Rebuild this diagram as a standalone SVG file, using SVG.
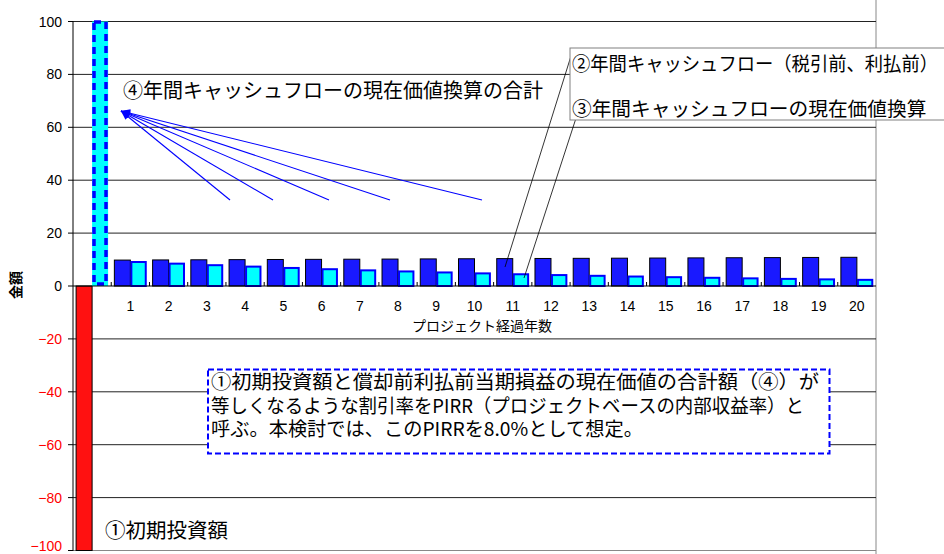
<svg xmlns="http://www.w3.org/2000/svg" width="944" height="554" viewBox="0 0 944 554">
<defs>
<style>
.grid{stroke:#222;stroke-width:1;fill:none}
.num{font-family:"Liberation Sans",Arial,sans-serif;font-size:14px;fill:#000}
.neg{fill:#ff0000}
.jp{font-family:"Noto Sans CJK JP","Liberation Sans",sans-serif;fill:#000}
.cf{fill:#1919ff;stroke:#000;stroke-width:1}
.pv{fill:#00ffff;stroke:#0000ff;stroke-width:2}
.tick{stroke:#000;stroke-width:1}
.arr{stroke:#0000ff;stroke-width:1.1;fill:none;marker-end:url(#ah)}
.lead{stroke:#000;stroke-width:0.8;fill:none}
</style>
<marker id="ah" markerUnits="userSpaceOnUse" markerWidth="10" markerHeight="8" refX="9" refY="4" orient="auto">
<path d="M0,0 L9,4 L0,8 z" fill="#0000ff"/>
</marker>
</defs>
<rect width="944" height="554" fill="#fff"/>

<g id="plot-frame">
<line x1="876" y1="0" x2="876" y2="554" stroke="#888" stroke-width="1"/>
<line class="grid" x1="73" y1="21.5" x2="876" y2="21.5" stroke="#888"/>
<line class="grid" x1="73" y1="74.4" x2="876" y2="74.4"/>
<line class="grid" x1="73" y1="127.3" x2="876" y2="127.3"/>
<line class="grid" x1="73" y1="180.2" x2="876" y2="180.2"/>
<line class="grid" x1="73" y1="233.1" x2="876" y2="233.1"/>
<line class="grid" x1="73" y1="338.9" x2="876" y2="338.9"/>
<line class="grid" x1="73" y1="391.8" x2="876" y2="391.8"/>
<line class="grid" x1="73" y1="444.7" x2="876" y2="444.7"/>
<line class="grid" x1="73" y1="497.6" x2="876" y2="497.6"/>
<line x1="73" y1="550.5" x2="876" y2="550.5" stroke="#888" stroke-width="1"/>
<line x1="73" y1="21" x2="73" y2="551" stroke="#000" stroke-width="1"/>
<g class="tick">
<line x1="68" y1="21.5" x2="73" y2="21.5"/><line x1="68" y1="74.4" x2="73" y2="74.4"/>
<line x1="68" y1="127.3" x2="73" y2="127.3"/><line x1="68" y1="180.2" x2="73" y2="180.2"/>
<line x1="68" y1="233.1" x2="73" y2="233.1"/><line x1="68" y1="286" x2="73" y2="286"/>
<line x1="68" y1="338.9" x2="73" y2="338.9"/><line x1="68" y1="391.8" x2="73" y2="391.8"/>
<line x1="68" y1="444.7" x2="73" y2="444.7"/><line x1="68" y1="497.6" x2="73" y2="497.6"/>
<line x1="68" y1="550.5" x2="73" y2="550.5"/>
</g>
</g>

<g id="y-labels" class="num" text-anchor="end">
<text x="62" y="26.5">100</text>
<text x="62" y="79.4">80</text>
<text x="62" y="132.3">60</text>
<text x="62" y="185.2">40</text>
<text x="62" y="238.1">20</text>
<text x="62" y="291">0</text>
<text class="neg" x="62" y="343.9">−20</text>
<text class="neg" x="62" y="396.8">−40</text>
<text class="neg" x="62" y="449.7">−60</text>
<text class="neg" x="62" y="502.6">−80</text>
<text class="neg" x="62" y="551">−100</text>
</g>
<text id="y-title" class="jp" font-size="14" font-weight="bold" text-anchor="middle" transform="translate(21,285) rotate(-90)">金額</text>

<g id="bars-year0">
<rect x="76.1" y="286" width="16" height="264.5" fill="#ff1111" stroke="#000" stroke-width="1"/>
<rect x="92.1" y="21.5" width="16" height="264.5" fill="#00ffff"/>
<rect x="94" y="22" width="12" height="262" fill="none" stroke="#0000ff" stroke-width="3.5" stroke-dasharray="7 5"/>
</g>

<g id="bars-cashflow">
<rect class="cf" x="114.36" y="260.08" width="16" height="25.92"/>
<rect class="cf" x="152.60" y="259.93" width="16" height="26.07"/>
<rect class="cf" x="190.83" y="259.79" width="16" height="26.21"/>
<rect class="cf" x="229.07" y="259.64" width="16" height="26.36"/>
<rect class="cf" x="267.31" y="259.49" width="16" height="26.51"/>
<rect class="cf" x="305.55" y="259.35" width="16" height="26.65"/>
<rect class="cf" x="343.79" y="259.20" width="16" height="26.80"/>
<rect class="cf" x="382.02" y="259.06" width="16" height="26.94"/>
<rect class="cf" x="420.26" y="258.91" width="16" height="27.09"/>
<rect class="cf" x="458.50" y="258.76" width="16" height="27.24"/>
<rect class="cf" x="496.74" y="258.62" width="16" height="27.38"/>
<rect class="cf" x="534.98" y="258.47" width="16" height="27.53"/>
<rect class="cf" x="573.21" y="258.33" width="16" height="27.67"/>
<rect class="cf" x="611.45" y="258.18" width="16" height="27.82"/>
<rect class="cf" x="649.69" y="258.03" width="16" height="27.97"/>
<rect class="cf" x="687.93" y="257.89" width="16" height="28.11"/>
<rect class="cf" x="726.17" y="257.74" width="16" height="28.26"/>
<rect class="cf" x="764.40" y="257.60" width="16" height="28.40"/>
<rect class="cf" x="802.64" y="257.45" width="16" height="28.55"/>
<rect class="cf" x="840.88" y="257.30" width="16" height="28.70"/>
</g>

<g id="bars-presentvalue">
<rect class="pv" x="131.36" y="262.00" width="14.4" height="24.00"/>
<rect class="pv" x="169.60" y="263.65" width="14.4" height="22.35"/>
<rect class="pv" x="207.83" y="265.19" width="14.4" height="20.81"/>
<rect class="pv" x="246.07" y="266.62" width="14.4" height="19.38"/>
<rect class="pv" x="284.31" y="267.96" width="14.4" height="18.04"/>
<rect class="pv" x="322.55" y="269.21" width="14.4" height="16.79"/>
<rect class="pv" x="360.79" y="270.36" width="14.4" height="15.64"/>
<rect class="pv" x="399.02" y="271.44" width="14.4" height="14.56"/>
<rect class="pv" x="437.26" y="272.45" width="14.4" height="13.55"/>
<rect class="pv" x="475.50" y="273.38" width="14.4" height="12.62"/>
<rect class="pv" x="513.74" y="274.26" width="14.4" height="11.74"/>
<rect class="pv" x="551.98" y="275.07" width="14.4" height="10.93"/>
<rect class="pv" x="590.21" y="275.82" width="14.4" height="10.18"/>
<rect class="pv" x="628.45" y="276.53" width="14.4" height="9.47"/>
<rect class="pv" x="666.69" y="277.18" width="14.4" height="8.82"/>
<rect class="pv" x="704.93" y="277.79" width="14.4" height="8.21"/>
<rect class="pv" x="743.17" y="278.36" width="14.4" height="7.64"/>
<rect class="pv" x="781.40" y="278.89" width="14.4" height="7.11"/>
<rect class="pv" x="819.64" y="279.38" width="14.4" height="6.62"/>
<rect class="pv" x="857.88" y="279.84" width="14.4" height="6.16"/>
</g>

<g id="x-axis">
<line x1="73" y1="286" x2="876" y2="286" stroke="#000" stroke-width="1.2"/>
<g class="tick">
<line x1="111.24" y1="282" x2="111.24" y2="286"/><line x1="149.48" y1="282" x2="149.48" y2="286"/>
<line x1="187.71" y1="282" x2="187.71" y2="286"/><line x1="225.95" y1="282" x2="225.95" y2="286"/>
<line x1="264.19" y1="282" x2="264.19" y2="286"/><line x1="302.43" y1="282" x2="302.43" y2="286"/>
<line x1="340.67" y1="282" x2="340.67" y2="286"/><line x1="378.90" y1="282" x2="378.90" y2="286"/>
<line x1="417.14" y1="282" x2="417.14" y2="286"/><line x1="455.38" y1="282" x2="455.38" y2="286"/>
<line x1="493.62" y1="282" x2="493.62" y2="286"/><line x1="531.86" y1="282" x2="531.86" y2="286"/>
<line x1="570.10" y1="282" x2="570.10" y2="286"/><line x1="608.33" y1="282" x2="608.33" y2="286"/>
<line x1="646.57" y1="282" x2="646.57" y2="286"/><line x1="684.81" y1="282" x2="684.81" y2="286"/>
<line x1="723.05" y1="282" x2="723.05" y2="286"/><line x1="761.29" y1="282" x2="761.29" y2="286"/>
<line x1="799.52" y1="282" x2="799.52" y2="286"/><line x1="837.76" y1="282" x2="837.76" y2="286"/>
</g>
<g class="num" text-anchor="middle">
<text x="130.36" y="311">1</text><text x="168.60" y="311">2</text><text x="206.83" y="311">3</text>
<text x="245.07" y="311">4</text><text x="283.31" y="311">5</text><text x="321.55" y="311">6</text>
<text x="359.79" y="311">7</text><text x="398.02" y="311">8</text><text x="436.26" y="311">9</text>
<text x="474.50" y="311">10</text><text x="512.74" y="311">11</text><text x="550.98" y="311">12</text>
<text x="589.21" y="311">13</text><text x="627.45" y="311">14</text><text x="665.69" y="311">15</text>
<text x="703.93" y="311">16</text><text x="742.17" y="311">17</text><text x="780.40" y="311">18</text>
<text x="818.64" y="311">19</text><text x="856.88" y="311">20</text>
</g>
<text class="jp" x="482" y="331" font-size="14" text-anchor="middle">プロジェクト経過年数</text>
</g>

<g id="connectors">
<line class="arr" x1="230" y1="200" x2="121" y2="111"/>
<line class="arr" x1="273" y1="200" x2="121" y2="111"/>
<line class="arr" x1="329" y1="200" x2="121" y2="111"/>
<line class="arr" x1="390" y1="200" x2="121" y2="111"/>
<line class="arr" x1="482" y1="200" x2="121" y2="111"/>
<line class="lead" x1="571" y1="56" x2="505" y2="267"/>
<line class="lead" x1="578" y1="112" x2="524" y2="278"/>
</g>

<g id="label-total">
<text class="jp" x="123" y="97.5" font-size="20">④年間キャッシュフローの現在価値換算の合計</text>
</g>

<g id="label-cf">
<rect x="570" y="48" width="390" height="72" fill="#fff" stroke="#808080" stroke-width="1"/>
<text class="jp" x="572" y="70.5" font-size="19.5" textLength="366" lengthAdjust="spacingAndGlyphs">②年間キャッシュフロー（税引前、利払前）</text>
<text class="jp" x="572" y="115.5" font-size="19.7">③年間キャッシュフローの現在価値換算</text>
</g>

<g id="label-pirr">
<rect x="208" y="369.5" width="621.5" height="84" fill="#fff" stroke="#0000ff" stroke-width="2" stroke-dasharray="6 3"/>
<text class="jp" x="211" y="389" font-size="19" textLength="608" lengthAdjust="spacingAndGlyphs">①初期投資額と償却前利払前当期損益の現在価値の合計額（④）が</text>
<text class="jp" x="211" y="412.5" font-size="19" textLength="593" lengthAdjust="spacingAndGlyphs">等しくなるような割引率をPIRR（プロジェクトベースの内部収益率）と</text>
<text class="jp" x="211" y="435.7" font-size="19" textLength="432" lengthAdjust="spacingAndGlyphs">呼ぶ。本検討では、このPIRRを8.0%として想定。</text>
</g>

<g id="label-initial">
<text class="jp" x="105" y="537.5" font-size="20.5">①初期投資額</text>
</g>
</svg>
